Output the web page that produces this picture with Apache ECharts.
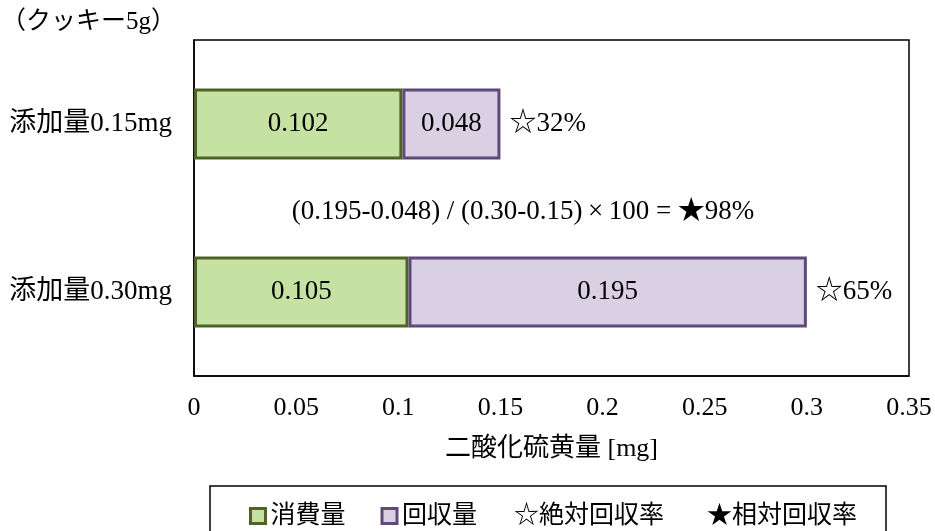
<!DOCTYPE html>
<html>
<head>
<meta charset="utf-8">
<script src="https://cdn.jsdelivr.net/npm/echarts@6/dist/echarts.min.js"></script>
<style>
  html, body { margin: 0; padding: 0; background: #fff; }
  #chart { width: 935px; height: 531px; }
</style>
</head>
<body>
<div id="chart"></div>
<script>
// Sulfur dioxide recovery test on cookies (5 g sample)
const categories = ['添加量0.15mg', '添加量0.30mg'];
const consumed = [0.102, 0.105];      // 消費量
const recovered = [0.048, 0.195];     // 回収量
const absoluteRates = ['☆32%', '☆65%'];
const xTicks = { min: 0, max: 0.35, interval: 0.05 };
const formulaText = '(0.195-0.048) / (0.30-0.15)\u2009\u00d7\u2009100 = \u260598%';

const FONT = "'Liberation Serif', 'Noto Sans CJK JP', serif";
const GREEN = '#c5e2a2', GREEN_EDGE = '#4f6228';
const PURPLE = '#d9d0e4', PURPLE_EDGE = '#604a7b';

const chart = echarts.init(document.getElementById('chart'), null, { renderer: 'canvas' });

chart.setOption({
  animation: false,
  backgroundColor: '#fff',
  textStyle: { fontFamily: FONT, color: '#000' },
  grid: {
    left: 194, right: 26, top: 40, bottom: 155,
    show: true, borderColor: '#000', borderWidth: 1.5, backgroundColor: 'transparent'
  },
  xAxis: {
    type: 'value',
    min: xTicks.min, max: xTicks.max, interval: xTicks.interval,
    axisLine: { show: true, lineStyle: { color: '#000', width: 1.5 } },
    axisTick: { show: false },
    splitLine: { show: false },
    axisLabel: { fontSize: 26, color: '#000', fontFamily: FONT, margin: 19 },
    name: '二酸化硫黄量 [mg]',
    nameLocation: 'middle',
    nameGap: 60,
    nameTextStyle: { fontSize: 26, color: '#000', fontFamily: FONT }
  },
  yAxis: {
    type: 'category',
    inverse: true,
    data: categories,
    axisLine: { show: true, lineStyle: { color: '#000', width: 1.5 } },
    axisTick: { show: false },
    axisLabel: { fontSize: 27, color: '#000', fontFamily: FONT, margin: 22 }
  },
  legend: [
    {
      left: 244, top: 498,
      itemWidth: 15, itemHeight: 15, itemGap: 35,
      textStyle: { fontSize: 25, color: '#000', fontFamily: FONT, lineHeight: 26 },
      selectedMode: false,
      data: [
        { name: '消費量', icon: 'rect', itemStyle: { color: GREEN, borderColor: GREEN_EDGE, borderWidth: 3 } },
        { name: '回収量', icon: 'rect', itemStyle: { color: PURPLE, borderColor: PURPLE_EDGE, borderWidth: 3 } }
      ]
    },
    {
      left: 504, top: 498,
      itemWidth: 0, itemHeight: 15, itemGap: 38,
      textStyle: { fontSize: 25, color: '#000', fontFamily: FONT, lineHeight: 26 },
      selectedMode: false,
      data: [
        { name: '☆絶対回収率', icon: 'none' },
        { name: '★相対回収率', icon: 'none' }
      ]
    }
  ],
  graphic: [
    {
      type: 'text', left: 1, top: 10,
      style: { text: '（クッキー5g）', fontSize: 25, fontFamily: FONT, fill: '#000' }
    },
    {
      type: 'text', x: 523, y: 212,
      style: {
        text: formulaText, fontSize: 27, fontFamily: FONT, fill: '#000',
        align: 'center', verticalAlign: 'middle'
      }
    },
    {
      type: 'rect',
      shape: { x: 210, y: 486, width: 676, height: 60 },
      style: { fill: 'none', stroke: '#000', lineWidth: 1.5 }
    }
  ],
  series: [
    {
      name: '消費量', type: 'bar', stack: 'total', barWidth: 71,
      data: consumed,
      itemStyle: { color: GREEN, borderColor: GREEN_EDGE, borderWidth: 3 },
      label: {
        show: true, position: 'inside', fontSize: 27, color: '#000', fontFamily: FONT,
        formatter: p => p.value.toFixed(3)
      }
    },
    {
      name: '回収量', type: 'bar', stack: 'total', barWidth: 71,
      data: recovered,
      itemStyle: { color: PURPLE, borderColor: PURPLE_EDGE, borderWidth: 3 },
      label: {
        show: true, position: 'inside', fontSize: 27, color: '#000', fontFamily: FONT,
        formatter: p => p.value.toFixed(3)
      }
    },
    {
      // right-hand annotations carrying the absolute recovery rate
      name: '☆絶対回収率', type: 'bar', stack: 'total', barWidth: 71,
      data: [0, 0],
      itemStyle: { color: 'transparent' },
      label: {
        show: true, position: 'right', distance: 9, fontSize: 27, color: '#000', fontFamily: FONT,
        formatter: p => absoluteRates[p.dataIndex]
      }
    },
    {
      name: '★相対回収率', type: 'line', data: [],
      symbol: 'none'
    }
  ]
});
</script>
</body>
</html>
